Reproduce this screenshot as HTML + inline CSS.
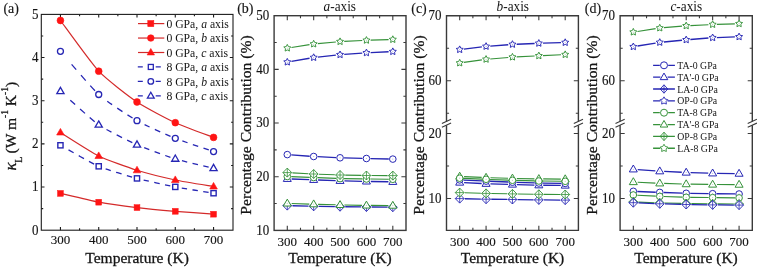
<!DOCTYPE html><html><head><meta charset="utf-8"><style>html,body{margin:0;padding:0;background:#fff;width:757px;height:268px;overflow:hidden}svg{display:block;will-change:transform;filter:blur(0.3px)}text{font-family:"Liberation Serif",serif;fill:#151515}.b{stroke:#151515;stroke-width:0.28px}.m{stroke:#151515;stroke-width:0.14px}</style></head><body>
<svg width="757" height="268" viewBox="0 0 757 268">
<rect width="757" height="268" fill="#fff"/>
<path d="M60.44,230.2v-3.2M60.44,14.4v3.2M79.58,230.2v-1.9M79.58,14.4v1.9M98.72,230.2v-3.2M98.72,14.4v3.2M117.86,230.2v-1.9M117.86,14.4v1.9M137,230.2v-3.2M137,14.4v3.2M156.14,230.2v-1.9M156.14,14.4v1.9M175.28,230.2v-3.2M175.28,14.4v3.2M194.42,230.2v-1.9M194.42,14.4v1.9M213.56,230.2v-3.2M213.56,14.4v3.2M41.3,187.04h3.2M233,187.04h-3.2M41.3,143.88h3.2M233,143.88h-3.2M41.3,100.72h3.2M233,100.72h-3.2M41.3,57.56h3.2M233,57.56h-3.2M41.3,208.62h1.9M233,208.62h-1.9M41.3,165.46h1.9M233,165.46h-1.9M41.3,122.3h1.9M233,122.3h-1.9M41.3,79.14h1.9M233,79.14h-1.9M41.3,35.98h1.9M233,35.98h-1.9" stroke="#1c1c1c" stroke-width="1.1" fill="none"/>
<rect x="41.3" y="14.4" width="191.7" height="215.8" fill="none" stroke="#1c1c1c" stroke-width="1.1"/>
<text transform="translate(38.4,234.6) scale(1,1.05)" font-size="13" text-anchor="end" class="m">0</text>
<text transform="translate(38.4,191.44) scale(1,1.05)" font-size="13" text-anchor="end" class="m">1</text>
<text transform="translate(38.4,148.28) scale(1,1.05)" font-size="13" text-anchor="end" class="m">2</text>
<text transform="translate(38.4,105.12) scale(1,1.05)" font-size="13" text-anchor="end" class="m">3</text>
<text transform="translate(38.4,61.96) scale(1,1.05)" font-size="13" text-anchor="end" class="m">4</text>
<text transform="translate(38.4,18.8) scale(1,1.05)" font-size="13" text-anchor="end" class="m">5</text>
<text transform="translate(60.44,244.1) scale(1,1.03)" font-size="13" text-anchor="middle" class="m">300</text>
<text transform="translate(98.72,244.1) scale(1,1.03)" font-size="13" text-anchor="middle" class="m">400</text>
<text transform="translate(137,244.1) scale(1,1.03)" font-size="13" text-anchor="middle" class="m">500</text>
<text transform="translate(175.28,244.1) scale(1,1.03)" font-size="13" text-anchor="middle" class="m">600</text>
<text transform="translate(213.56,244.1) scale(1,1.03)" font-size="13" text-anchor="middle" class="m">700</text>
<text x="137.1" y="263" font-size="15.5" text-anchor="middle" class="b">Temperature (K)</text>
<text transform="translate(15.6,170.4) rotate(-90)" class="b" font-size="15.5"><tspan font-style="italic" font-size="16.8">κ</tspan><tspan font-size="10" dy="6.4" dx="-0.3">L</tspan><tspan dy="-6.4" dx="-0.8"> (W m</tspan><tspan font-size="9.5" dy="-8">-1</tspan><tspan dy="8"> K</tspan><tspan font-size="9.5" dy="-8">-1</tspan><tspan dy="8">)</tspan></text>
<path d="M60.44,20.5 C64.27,25.57 91.06,63.05 98.72,71.2 C106.38,79.35 129.34,96.85 137,102 C144.66,107.15 167.62,119.16 175.28,122.7 C182.94,126.24 209.73,135.93 213.56,137.4" fill="none" stroke="#d42a2a" stroke-width="1.2"/>
<path d="M60.44,132.5 C64.27,134.85 91.06,152.22 98.72,156 C106.38,159.78 129.34,167.9 137,170.3 C144.66,172.7 167.62,178.38 175.28,180 C182.94,181.62 209.73,185.85 213.56,186.5" fill="none" stroke="#d42a2a" stroke-width="1.2"/>
<path d="M60.44,193.4 C64.27,194.28 91.06,200.78 98.72,202.2 C106.38,203.62 129.34,206.69 137,207.6 C144.66,208.51 167.62,210.64 175.28,211.3 C182.94,211.96 209.73,213.91 213.56,214.2" fill="none" stroke="#d42a2a" stroke-width="1.2"/>
<path d="M60.44,51.3 C64.27,55.62 91.06,87.56 98.72,94.5" fill="none" stroke="#2626b4" stroke-width="1.3" stroke-dasharray="0 17.21 7.06 7.06 7.06 7.06 7.06 400"/>
<path d="M98.72,94.5 C106.38,101.44 129.34,116.32 137,120.7" fill="none" stroke="#2626b4" stroke-width="1.3" stroke-dasharray="0 10.92 6.05 6.05 6.05 6.05 6.05 400"/>
<path d="M137,120.7 C144.66,125.08 167.62,135.21 175.28,138.3" fill="none" stroke="#2626b4" stroke-width="1.3" stroke-dasharray="0 8.56 5.67 5.67 5.67 5.67 5.67 400"/>
<path d="M175.28,138.3 C182.94,141.39 209.73,150.27 213.56,151.6" fill="none" stroke="#2626b4" stroke-width="1.3" stroke-dasharray="0 7.67 5.53 5.53 5.53 5.53 5.53 400"/>
<path d="M60.44,91.2 C64.27,94.56 91.06,119.45 98.72,124.8" fill="none" stroke="#2626b4" stroke-width="1.3" stroke-dasharray="0 13.45 6.46 6.46 6.46 6.46 6.46 400"/>
<path d="M98.72,124.8 C106.38,130.15 129.34,141.29 137,144.7" fill="none" stroke="#2626b4" stroke-width="1.3" stroke-dasharray="0 9.12 5.76 5.76 5.76 5.76 5.76 400"/>
<path d="M137,144.7 C144.66,148.11 167.62,156.55 175.28,158.9" fill="none" stroke="#2626b4" stroke-width="1.3" stroke-dasharray="0 7.84 5.56 5.56 5.56 5.56 5.56 400"/>
<path d="M175.28,158.9 C182.94,161.25 209.73,167.27 213.56,168.2" fill="none" stroke="#2626b4" stroke-width="1.3" stroke-dasharray="0 7.04 5.43 5.43 5.43 5.43 5.43 400"/>
<path d="M60.44,145.3 C64.27,147.4 91.06,162.99 98.72,166.3" fill="none" stroke="#2626b4" stroke-width="1.3" stroke-dasharray="0 9.41 5.81 5.81 5.81 5.81 5.81 400"/>
<path d="M98.72,166.3 C106.38,169.61 129.34,176.34 137,178.4" fill="none" stroke="#2626b4" stroke-width="1.3" stroke-dasharray="0 7.46 5.5 5.5 5.5 5.5 5.5 400"/>
<path d="M137,178.4 C144.66,180.46 167.62,185.42 175.28,186.9" fill="none" stroke="#2626b4" stroke-width="1.3" stroke-dasharray="0 6.94 5.41 5.41 5.41 5.41 5.41 400"/>
<path d="M175.28,186.9 C182.94,188.38 209.73,192.57 213.56,193.2" fill="none" stroke="#2626b4" stroke-width="1.3" stroke-dasharray="0 6.71 5.38 5.38 5.38 5.38 5.38 400"/>
<circle cx="60.44" cy="20.5" r="3.4" fill="#ff1414" stroke="#ff1414" stroke-width="0.6"/>
<circle cx="98.72" cy="71.2" r="3.4" fill="#ff1414" stroke="#ff1414" stroke-width="0.6"/>
<circle cx="137" cy="102" r="3.4" fill="#ff1414" stroke="#ff1414" stroke-width="0.6"/>
<circle cx="175.28" cy="122.7" r="3.4" fill="#ff1414" stroke="#ff1414" stroke-width="0.6"/>
<circle cx="213.56" cy="137.4" r="3.4" fill="#ff1414" stroke="#ff1414" stroke-width="0.6"/>
<path d="M60.44,128.42 L64.24,135 L56.64,135Z" fill="#ff1414" stroke="#ff1414" stroke-width="0.6" stroke-linejoin="miter"/>
<path d="M98.72,151.92 L102.52,158.5 L94.92,158.5Z" fill="#ff1414" stroke="#ff1414" stroke-width="0.6" stroke-linejoin="miter"/>
<path d="M137,166.22 L140.8,172.8 L133.2,172.8Z" fill="#ff1414" stroke="#ff1414" stroke-width="0.6" stroke-linejoin="miter"/>
<path d="M175.28,175.92 L179.08,182.5 L171.48,182.5Z" fill="#ff1414" stroke="#ff1414" stroke-width="0.6" stroke-linejoin="miter"/>
<path d="M213.56,182.42 L217.36,189 L209.76,189Z" fill="#ff1414" stroke="#ff1414" stroke-width="0.6" stroke-linejoin="miter"/>
<rect x="57.54" y="190.5" width="5.8" height="5.8" fill="#ff1414" stroke="#ff1414" stroke-width="0.5"/>
<rect x="95.82" y="199.3" width="5.8" height="5.8" fill="#ff1414" stroke="#ff1414" stroke-width="0.5"/>
<rect x="134.1" y="204.7" width="5.8" height="5.8" fill="#ff1414" stroke="#ff1414" stroke-width="0.5"/>
<rect x="172.38" y="208.4" width="5.8" height="5.8" fill="#ff1414" stroke="#ff1414" stroke-width="0.5"/>
<rect x="210.66" y="211.3" width="5.8" height="5.8" fill="#ff1414" stroke="#ff1414" stroke-width="0.5"/>
<circle cx="60.44" cy="51.3" r="3" fill="white" stroke="#2626b4" stroke-width="1.3"/>
<circle cx="98.72" cy="94.5" r="3" fill="white" stroke="#2626b4" stroke-width="1.3"/>
<circle cx="137" cy="120.7" r="3" fill="white" stroke="#2626b4" stroke-width="1.3"/>
<circle cx="175.28" cy="138.3" r="3" fill="white" stroke="#2626b4" stroke-width="1.3"/>
<circle cx="213.56" cy="151.6" r="3" fill="white" stroke="#2626b4" stroke-width="1.3"/>
<path d="M60.44,87.34 L64.04,93.57 L56.84,93.57Z" fill="white" stroke="#2626b4" stroke-width="1.3" stroke-linejoin="miter"/>
<path d="M98.72,120.94 L102.32,127.17 L95.12,127.17Z" fill="white" stroke="#2626b4" stroke-width="1.3" stroke-linejoin="miter"/>
<path d="M137,140.84 L140.6,147.07 L133.4,147.07Z" fill="white" stroke="#2626b4" stroke-width="1.3" stroke-linejoin="miter"/>
<path d="M175.28,155.04 L178.88,161.27 L171.68,161.27Z" fill="white" stroke="#2626b4" stroke-width="1.3" stroke-linejoin="miter"/>
<path d="M213.56,164.34 L217.16,170.57 L209.96,170.57Z" fill="white" stroke="#2626b4" stroke-width="1.3" stroke-linejoin="miter"/>
<rect x="57.84" y="142.7" width="5.2" height="5.2" fill="white" stroke="#2626b4" stroke-width="1.4"/>
<rect x="96.12" y="163.7" width="5.2" height="5.2" fill="white" stroke="#2626b4" stroke-width="1.4"/>
<rect x="134.4" y="175.8" width="5.2" height="5.2" fill="white" stroke="#2626b4" stroke-width="1.4"/>
<rect x="172.68" y="184.3" width="5.2" height="5.2" fill="white" stroke="#2626b4" stroke-width="1.4"/>
<rect x="210.96" y="190.6" width="5.2" height="5.2" fill="white" stroke="#2626b4" stroke-width="1.4"/>
<path d="M138,23.6H164.3" stroke="#d42a2a" stroke-width="1.2"/>
<rect x="147.8" y="20.6" width="6" height="6" fill="#ff1414" stroke="#ff1414" stroke-width="0.6"/>
<text x="166.4" y="27.8" font-size="11.7">0 GPa, <tspan font-style="italic">a</tspan> axis</text>
<path d="M138,38.05H164.3" stroke="#d42a2a" stroke-width="1.2"/>
<circle cx="150.8" cy="38.05" r="3.3" fill="#ff1414" stroke="#ff1414" stroke-width="0.6"/>
<text x="166.4" y="42.25" font-size="11.7">0 GPa, <tspan font-style="italic">b</tspan> axis</text>
<path d="M138,52.5H164.3" stroke="#d42a2a" stroke-width="1.2"/>
<path d="M150.8,48.53 L154.5,54.93 L147.1,54.93Z" fill="#ff1414" stroke="#ff1414" stroke-width="0.6" stroke-linejoin="miter"/>
<text x="166.4" y="56.7" font-size="11.7">0 GPa, <tspan font-style="italic">c</tspan> axis</text>
<path d="M137.8,66.95H142.8M155.7,66.95H160.8" stroke="#2626b4" stroke-width="1.3"/>
<rect x="148.3" y="64.45" width="5" height="5" fill="white" stroke="#2626b4" stroke-width="1.3"/>
<text x="166.4" y="71.15" font-size="11.7">8 GPa, <tspan font-style="italic">a</tspan> axis</text>
<path d="M137.8,81.4H142.8M155.7,81.4H160.8" stroke="#2626b4" stroke-width="1.3"/>
<circle cx="150.8" cy="81.4" r="2.8" fill="white" stroke="#2626b4" stroke-width="1.3"/>
<text x="166.4" y="85.6" font-size="11.7">8 GPa, <tspan font-style="italic">b</tspan> axis</text>
<path d="M137.8,95.85H142.8M155.7,95.85H160.8" stroke="#2626b4" stroke-width="1.3"/>
<path d="M150.8,92.2 L154.2,98.09 L147.4,98.09Z" fill="white" stroke="#2626b4" stroke-width="1.3" stroke-linejoin="miter"/>
<text x="166.4" y="100.05" font-size="11.7">8 GPa, <tspan font-style="italic">c</tspan> axis</text>
<text transform="translate(11.2,13.2) scale(1,1.04)" font-size="14" text-anchor="middle" class="m">(a)</text>
<path d="M287.29,230.4v-4.6M287.29,15.7v4.6M300.48,230.4v-2.6M300.48,15.7v2.6M313.67,230.4v-4.6M313.67,15.7v4.6M326.86,230.4v-2.6M326.86,15.7v2.6M340.05,230.4v-4.6M340.05,15.7v4.6M353.24,230.4v-2.6M353.24,15.7v2.6M366.43,230.4v-4.6M366.43,15.7v4.6M379.62,230.4v-2.6M379.62,15.7v2.6M392.81,230.4v-4.6M392.81,15.7v4.6M274.1,176.73h4.6M406,176.73h-4.6M274.1,123.05h4.6M406,123.05h-4.6M274.1,69.37h4.6M406,69.37h-4.6M274.1,203.56h2.6M406,203.56h-2.6M274.1,149.89h2.6M406,149.89h-2.6M274.1,96.21h2.6M406,96.21h-2.6M274.1,42.54h2.6M406,42.54h-2.6" stroke="#3a3a3a" stroke-width="1.1" fill="none"/>
<rect x="274.1" y="15.7" width="131.9" height="214.7" fill="none" stroke="#3a3a3a" stroke-width="1.4"/>
<text transform="translate(269.3,234.65) scale(1,1.045)" font-size="13" text-anchor="end" class="m">10</text>
<text transform="translate(269.3,180.98) scale(1,1.045)" font-size="13" text-anchor="end" class="m">20</text>
<text transform="translate(269.3,127.3) scale(1,1.045)" font-size="13" text-anchor="end" class="m">30</text>
<text transform="translate(269.3,73.62) scale(1,1.045)" font-size="13" text-anchor="end" class="m">40</text>
<text transform="translate(269.3,19.95) scale(1,1.045)" font-size="13" text-anchor="end" class="m">50</text>
<text transform="translate(287.29,246.4) scale(1,1.03)" font-size="13" text-anchor="middle" class="m">300</text>
<text transform="translate(313.67,246.4) scale(1,1.03)" font-size="13" text-anchor="middle" class="m">400</text>
<text transform="translate(340.05,246.4) scale(1,1.03)" font-size="13" text-anchor="middle" class="m">500</text>
<text transform="translate(366.43,246.4) scale(1,1.03)" font-size="13" text-anchor="middle" class="m">600</text>
<text transform="translate(392.81,246.4) scale(1,1.03)" font-size="13" text-anchor="middle" class="m">700</text>
<text x="340" y="263" font-size="15.5" text-anchor="middle" class="b">Temperature (K)</text>
<text transform="translate(250.6,125.0) rotate(-90)" class="b" font-size="15.6" text-anchor="middle">Percentage Contribution (%)</text>
<text transform="translate(339.8,10.7) scale(1,1.1)" font-size="13.3" text-anchor="middle"><tspan font-style="italic">a</tspan>-axis</text>
<text transform="translate(245.3,13.2) scale(1,1.04)" font-size="14" text-anchor="middle" class="m">(b)</text>
<path d="M291.69,178.97L309.27,179.63M318.07,179.97L335.65,180.63M344.45,180.9L362.03,181.3M370.83,181.47L388.41,181.73" fill="none" stroke="#2626b4" stroke-width="1.35"/>
<path d="M287.29,174.51 L291.29,181.43 L283.29,181.43Z" fill="white" stroke="#2626b4" stroke-width="1.0" stroke-linejoin="miter"/>
<circle cx="287.29" cy="178.8" r="0.6" fill="#2626b4" opacity="0.35"/>
<path d="M313.67,175.51 L317.67,182.43 L309.67,182.43Z" fill="white" stroke="#2626b4" stroke-width="1.0" stroke-linejoin="miter"/>
<circle cx="313.67" cy="179.8" r="0.6" fill="#2626b4" opacity="0.35"/>
<path d="M340.05,176.51 L344.05,183.43 L336.05,183.43Z" fill="white" stroke="#2626b4" stroke-width="1.0" stroke-linejoin="miter"/>
<circle cx="340.05" cy="180.8" r="0.6" fill="#2626b4" opacity="0.35"/>
<path d="M366.43,177.11 L370.43,184.03 L362.43,184.03Z" fill="white" stroke="#2626b4" stroke-width="1.0" stroke-linejoin="miter"/>
<circle cx="366.43" cy="181.4" r="0.6" fill="#2626b4" opacity="0.35"/>
<path d="M392.81,177.51 L396.81,184.43 L388.81,184.43Z" fill="white" stroke="#2626b4" stroke-width="1.0" stroke-linejoin="miter"/>
<circle cx="392.81" cy="181.8" r="0.6" fill="#2626b4" opacity="0.35"/>
<path d="M291.28,154.89L309.68,156.21M317.67,156.7L336.05,157.6M344.05,157.91L362.43,158.39M370.43,158.59L388.81,159.01" fill="none" stroke="#2626b4" stroke-width="1.35"/>
<circle cx="287.29" cy="154.6" r="3.3" fill="white" stroke="#2626b4" stroke-width="1.0"/>
<circle cx="287.29" cy="154.6" r="0.6" fill="#2626b4" opacity="0.35"/>
<circle cx="313.67" cy="156.5" r="3.3" fill="white" stroke="#2626b4" stroke-width="1.0"/>
<circle cx="313.67" cy="156.5" r="0.6" fill="#2626b4" opacity="0.35"/>
<circle cx="340.05" cy="157.8" r="3.3" fill="white" stroke="#2626b4" stroke-width="1.0"/>
<circle cx="340.05" cy="157.8" r="0.6" fill="#2626b4" opacity="0.35"/>
<circle cx="366.43" cy="158.5" r="3.3" fill="white" stroke="#2626b4" stroke-width="1.0"/>
<circle cx="366.43" cy="158.5" r="0.6" fill="#2626b4" opacity="0.35"/>
<circle cx="392.81" cy="159.1" r="3.3" fill="white" stroke="#2626b4" stroke-width="1.0"/>
<circle cx="392.81" cy="159.1" r="0.6" fill="#2626b4" opacity="0.35"/>
<path d="M292.49,205.74L308.47,206.16M318.87,206.38L334.85,206.62M345.25,206.76L361.23,206.94M371.63,207.04L387.61,207.16" fill="none" stroke="#2626b4" stroke-width="1.35"/>
<path d="M287.29,201.1 L291.69,205.6 L287.29,210.1 L282.89,205.6Z" fill="white" stroke="#2626b4" stroke-width="0.9"/>
<path d="M282.89,205.6H291.69M287.29,201.1V210.1" stroke="#2626b4" stroke-width="0.8" fill="none"/>
<path d="M313.67,201.8 L318.07,206.3 L313.67,210.8 L309.27,206.3Z" fill="white" stroke="#2626b4" stroke-width="0.9"/>
<path d="M309.27,206.3H318.07M313.67,201.8V210.8" stroke="#2626b4" stroke-width="0.8" fill="none"/>
<path d="M340.05,202.2 L344.45,206.7 L340.05,211.2 L335.65,206.7Z" fill="white" stroke="#2626b4" stroke-width="0.9"/>
<path d="M335.65,206.7H344.45M340.05,202.2V211.2" stroke="#2626b4" stroke-width="0.8" fill="none"/>
<path d="M366.43,202.5 L370.83,207 L366.43,211.5 L362.03,207Z" fill="white" stroke="#2626b4" stroke-width="0.9"/>
<path d="M362.03,207H370.83M366.43,202.5V211.5" stroke="#2626b4" stroke-width="0.8" fill="none"/>
<path d="M392.81,202.7 L397.21,207.2 L392.81,211.7 L388.41,207.2Z" fill="white" stroke="#2626b4" stroke-width="0.9"/>
<path d="M388.41,207.2H397.21M392.81,202.7V211.7" stroke="#2626b4" stroke-width="0.8" fill="none"/>
<path d="M291.43,61.38L309.53,58.22M317.85,57.06L335.87,55.14M344.24,54.4L362.24,53.1M370.63,52.61L388.61,51.79" fill="none" stroke="#2626b4" stroke-width="1.35"/>
<polygon points="287.29,58.4 288.38,60.6 290.81,60.96 289.05,62.67 289.46,65.09 287.29,63.95 285.12,65.09 285.53,62.67 283.77,60.96 286.2,60.6" fill="white" stroke="#2626b4" stroke-width="0.95" stroke-linejoin="miter"/>
<circle cx="287.29" cy="62.1" r="0.6" fill="#2626b4" opacity="0.35"/>
<polygon points="313.67,53.8 314.76,56 317.19,56.36 315.43,58.07 315.84,60.49 313.67,59.35 311.5,60.49 311.91,58.07 310.15,56.36 312.58,56" fill="white" stroke="#2626b4" stroke-width="0.95" stroke-linejoin="miter"/>
<circle cx="313.67" cy="57.5" r="0.6" fill="#2626b4" opacity="0.35"/>
<polygon points="340.05,51 341.14,53.2 343.57,53.56 341.81,55.27 342.22,57.69 340.05,56.55 337.88,57.69 338.29,55.27 336.53,53.56 338.96,53.2" fill="white" stroke="#2626b4" stroke-width="0.95" stroke-linejoin="miter"/>
<circle cx="340.05" cy="54.7" r="0.6" fill="#2626b4" opacity="0.35"/>
<polygon points="366.43,49.1 367.52,51.3 369.95,51.66 368.19,53.37 368.6,55.79 366.43,54.65 364.26,55.79 364.67,53.37 362.91,51.66 365.34,51.3" fill="white" stroke="#2626b4" stroke-width="0.95" stroke-linejoin="miter"/>
<circle cx="366.43" cy="52.8" r="0.6" fill="#2626b4" opacity="0.35"/>
<polygon points="392.81,47.9 393.9,50.1 396.33,50.46 394.57,52.17 394.98,54.59 392.81,53.45 390.64,54.59 391.05,52.17 389.29,50.46 391.72,50.1" fill="white" stroke="#2626b4" stroke-width="0.95" stroke-linejoin="miter"/>
<circle cx="392.81" cy="51.6" r="0.6" fill="#2626b4" opacity="0.35"/>
<path d="M291.69,203.53L309.27,204.07M318.07,204.32L335.65,204.78M344.45,204.98L362.03,205.32M370.83,205.43L388.41,205.57" fill="none" stroke="#36923a" stroke-width="1.15"/>
<path d="M287.29,199.11 L291.29,206.03 L283.29,206.03Z" fill="white" stroke="#36923a" stroke-width="1.0" stroke-linejoin="miter"/>
<circle cx="287.29" cy="203.4" r="0.6" fill="#36923a" opacity="0.35"/>
<path d="M313.67,199.91 L317.67,206.83 L309.67,206.83Z" fill="white" stroke="#36923a" stroke-width="1.0" stroke-linejoin="miter"/>
<circle cx="313.67" cy="204.2" r="0.6" fill="#36923a" opacity="0.35"/>
<path d="M340.05,200.61 L344.05,207.53 L336.05,207.53Z" fill="white" stroke="#36923a" stroke-width="1.0" stroke-linejoin="miter"/>
<circle cx="340.05" cy="204.9" r="0.6" fill="#36923a" opacity="0.35"/>
<path d="M366.43,201.11 L370.43,208.03 L362.43,208.03Z" fill="white" stroke="#36923a" stroke-width="1.0" stroke-linejoin="miter"/>
<circle cx="366.43" cy="205.4" r="0.6" fill="#36923a" opacity="0.35"/>
<path d="M392.81,201.31 L396.81,208.23 L388.81,208.23Z" fill="white" stroke="#36923a" stroke-width="1.0" stroke-linejoin="miter"/>
<circle cx="392.81" cy="205.6" r="0.6" fill="#36923a" opacity="0.35"/>
<path d="M291.29,176.65L309.67,177.35M317.67,177.67L336.05,178.43M344.05,178.66L362.43,178.94M370.43,179.05L388.81,179.25" fill="none" stroke="#36923a" stroke-width="1.15"/>
<circle cx="287.29" cy="176.5" r="3.3" fill="white" stroke="#36923a" stroke-width="1.0"/>
<circle cx="287.29" cy="176.5" r="0.6" fill="#36923a" opacity="0.35"/>
<circle cx="313.67" cy="177.5" r="3.3" fill="white" stroke="#36923a" stroke-width="1.0"/>
<circle cx="313.67" cy="177.5" r="0.6" fill="#36923a" opacity="0.35"/>
<circle cx="340.05" cy="178.6" r="3.3" fill="white" stroke="#36923a" stroke-width="1.0"/>
<circle cx="340.05" cy="178.6" r="0.6" fill="#36923a" opacity="0.35"/>
<circle cx="366.43" cy="179" r="3.3" fill="white" stroke="#36923a" stroke-width="1.0"/>
<circle cx="366.43" cy="179" r="0.6" fill="#36923a" opacity="0.35"/>
<circle cx="392.81" cy="179.3" r="3.3" fill="white" stroke="#36923a" stroke-width="1.0"/>
<circle cx="392.81" cy="179.3" r="0.6" fill="#36923a" opacity="0.35"/>
<path d="M292.48,172.88L308.48,173.72M318.87,174.2L334.85,174.8M345.25,175.1L361.23,175.4M371.63,175.52L387.61,175.58" fill="none" stroke="#36923a" stroke-width="1.15"/>
<path d="M287.29,168.1 L291.69,172.6 L287.29,177.1 L282.89,172.6Z" fill="white" stroke="#36923a" stroke-width="0.9"/>
<path d="M282.89,172.6H291.69M287.29,168.1V177.1" stroke="#36923a" stroke-width="0.8" fill="none"/>
<path d="M313.67,169.5 L318.07,174 L313.67,178.5 L309.27,174Z" fill="white" stroke="#36923a" stroke-width="0.9"/>
<path d="M309.27,174H318.07M313.67,169.5V178.5" stroke="#36923a" stroke-width="0.8" fill="none"/>
<path d="M340.05,170.5 L344.45,175 L340.05,179.5 L335.65,175Z" fill="white" stroke="#36923a" stroke-width="0.9"/>
<path d="M335.65,175H344.45M340.05,170.5V179.5" stroke="#36923a" stroke-width="0.8" fill="none"/>
<path d="M366.43,171 L370.83,175.5 L366.43,180 L362.03,175.5Z" fill="white" stroke="#36923a" stroke-width="0.9"/>
<path d="M362.03,175.5H370.83M366.43,171V180" stroke="#36923a" stroke-width="0.8" fill="none"/>
<path d="M392.81,171.1 L397.21,175.6 L392.81,180.1 L388.41,175.6Z" fill="white" stroke="#36923a" stroke-width="0.9"/>
<path d="M388.41,175.6H397.21M392.81,171.1V180.1" stroke="#36923a" stroke-width="0.8" fill="none"/>
<path d="M291.44,47.45L309.52,44.65M317.85,43.62L335.87,41.98M344.24,41.39L362.24,40.51M370.63,40.17L388.61,39.63" fill="none" stroke="#36923a" stroke-width="1.15"/>
<polygon points="287.29,44.4 288.38,46.6 290.81,46.96 289.05,48.67 289.46,51.09 287.29,49.95 285.12,51.09 285.53,48.67 283.77,46.96 286.2,46.6" fill="white" stroke="#36923a" stroke-width="0.95" stroke-linejoin="miter"/>
<circle cx="287.29" cy="48.1" r="0.6" fill="#36923a" opacity="0.35"/>
<polygon points="313.67,40.3 314.76,42.5 317.19,42.86 315.43,44.57 315.84,46.99 313.67,45.85 311.5,46.99 311.91,44.57 310.15,42.86 312.58,42.5" fill="white" stroke="#36923a" stroke-width="0.95" stroke-linejoin="miter"/>
<circle cx="313.67" cy="44" r="0.6" fill="#36923a" opacity="0.35"/>
<polygon points="340.05,37.9 341.14,40.1 343.57,40.46 341.81,42.17 342.22,44.59 340.05,43.45 337.88,44.59 338.29,42.17 336.53,40.46 338.96,40.1" fill="white" stroke="#36923a" stroke-width="0.95" stroke-linejoin="miter"/>
<circle cx="340.05" cy="41.6" r="0.6" fill="#36923a" opacity="0.35"/>
<polygon points="366.43,36.6 367.52,38.8 369.95,39.16 368.19,40.87 368.6,43.29 366.43,42.15 364.26,43.29 364.67,40.87 362.91,39.16 365.34,38.8" fill="white" stroke="#36923a" stroke-width="0.95" stroke-linejoin="miter"/>
<circle cx="366.43" cy="40.3" r="0.6" fill="#36923a" opacity="0.35"/>
<polygon points="392.81,35.8 393.9,38 396.33,38.36 394.57,40.07 394.98,42.49 392.81,41.35 390.64,42.49 391.05,40.07 389.29,38.36 391.72,38" fill="white" stroke="#36923a" stroke-width="0.95" stroke-linejoin="miter"/>
<circle cx="392.81" cy="39.5" r="0.6" fill="#36923a" opacity="0.35"/>
<path d="M459.69,230.4v-4.6M459.69,15.7v4.6M472.88,230.4v-2.6M472.88,15.7v2.6M486.07,230.4v-4.6M486.07,15.7v4.6M499.26,230.4v-2.6M499.26,15.7v2.6M512.45,230.4v-4.6M512.45,15.7v4.6M525.64,230.4v-2.6M525.64,15.7v2.6M538.83,230.4v-4.6M538.83,15.7v4.6M552.02,230.4v-2.6M552.02,15.7v2.6M565.21,230.4v-4.6M565.21,15.7v4.6" stroke="#3a3a3a" stroke-width="1.1" fill="none"/>
<path d="M446.5,121.4V15.7H578.4V121.4M446.5,125.2V230.4H578.4V125.2" fill="none" stroke="#3a3a3a" stroke-width="1.4"/>
<path d="M441.9,123.4L451.1,119.3M441.9,127.2L451.1,123.1" stroke="#3a3a3a" stroke-width="1.1" fill="none"/>
<path d="M573.8,123.4L583,119.3M573.8,127.2L583,123.1" stroke="#3a3a3a" stroke-width="1.1" fill="none"/>
<path d="M446.5,80.7h4.6M578.4,80.7h-4.6M446.5,48.2h2.6M578.4,48.2h-2.6M446.5,113.2h2.6M578.4,113.2h-2.6M446.5,133.5h4.6M578.4,133.5h-4.6M446.5,198.5h4.6M578.4,198.5h-4.6M446.5,166h2.6M578.4,166h-2.6" stroke="#3a3a3a" stroke-width="1.1" fill="none"/>
<text transform="translate(441.5,19.95) scale(1,1.045)" font-size="13" text-anchor="end" class="m">70</text>
<text transform="translate(441.5,84.95) scale(1,1.045)" font-size="13" text-anchor="end" class="m">60</text>
<text transform="translate(441.5,137.75) scale(1,1.045)" font-size="13" text-anchor="end" class="m">20</text>
<text transform="translate(441.5,202.75) scale(1,1.045)" font-size="13" text-anchor="end" class="m">10</text>
<text transform="translate(459.69,246.4) scale(1,1.03)" font-size="13" text-anchor="middle" class="m">300</text>
<text transform="translate(486.07,246.4) scale(1,1.03)" font-size="13" text-anchor="middle" class="m">400</text>
<text transform="translate(512.45,246.4) scale(1,1.03)" font-size="13" text-anchor="middle" class="m">500</text>
<text transform="translate(538.83,246.4) scale(1,1.03)" font-size="13" text-anchor="middle" class="m">600</text>
<text transform="translate(565.21,246.4) scale(1,1.03)" font-size="13" text-anchor="middle" class="m">700</text>
<text x="512.5" y="263" font-size="15.5" text-anchor="middle" class="b">Temperature (K)</text>
<text transform="translate(423.6,125.0) rotate(-90)" class="b" font-size="15.6" text-anchor="middle">Percentage Contribution (%)</text>
<text transform="translate(512.8,10.7) scale(1,1.1)" font-size="13.3" text-anchor="middle"><tspan font-style="italic">b</tspan>-axis</text>
<text transform="translate(419,13.2) scale(1,1.04)" font-size="14" text-anchor="middle" class="m">(c)</text>
<path d="M464.09,182.7L481.67,183.5M490.47,183.83L508.05,184.37M516.85,184.62L534.43,185.08M543.23,185.25L560.81,185.45" fill="none" stroke="#2626b4" stroke-width="1.35"/>
<path d="M459.69,178.21 L463.69,185.13 L455.69,185.13Z" fill="white" stroke="#2626b4" stroke-width="1.0" stroke-linejoin="miter"/>
<circle cx="459.69" cy="182.5" r="0.6" fill="#2626b4" opacity="0.35"/>
<path d="M486.07,179.41 L490.07,186.33 L482.07,186.33Z" fill="white" stroke="#2626b4" stroke-width="1.0" stroke-linejoin="miter"/>
<circle cx="486.07" cy="183.7" r="0.6" fill="#2626b4" opacity="0.35"/>
<path d="M512.45,180.21 L516.45,187.13 L508.45,187.13Z" fill="white" stroke="#2626b4" stroke-width="1.0" stroke-linejoin="miter"/>
<circle cx="512.45" cy="184.5" r="0.6" fill="#2626b4" opacity="0.35"/>
<path d="M538.83,180.91 L542.83,187.83 L534.83,187.83Z" fill="white" stroke="#2626b4" stroke-width="1.0" stroke-linejoin="miter"/>
<circle cx="538.83" cy="185.2" r="0.6" fill="#2626b4" opacity="0.35"/>
<path d="M565.21,181.21 L569.21,188.13 L561.21,188.13Z" fill="white" stroke="#2626b4" stroke-width="1.0" stroke-linejoin="miter"/>
<circle cx="565.21" cy="185.5" r="0.6" fill="#2626b4" opacity="0.35"/>
<path d="M463.69,180.08L482.07,180.92M490.07,181.27L508.45,182.03M516.45,182.32L534.83,182.88M542.83,183.06L561.21,183.34" fill="none" stroke="#2626b4" stroke-width="1.35"/>
<circle cx="459.69" cy="179.9" r="3.3" fill="white" stroke="#2626b4" stroke-width="1.0"/>
<circle cx="459.69" cy="179.9" r="0.6" fill="#2626b4" opacity="0.35"/>
<circle cx="486.07" cy="181.1" r="3.3" fill="white" stroke="#2626b4" stroke-width="1.0"/>
<circle cx="486.07" cy="181.1" r="0.6" fill="#2626b4" opacity="0.35"/>
<circle cx="512.45" cy="182.2" r="3.3" fill="white" stroke="#2626b4" stroke-width="1.0"/>
<circle cx="512.45" cy="182.2" r="0.6" fill="#2626b4" opacity="0.35"/>
<circle cx="538.83" cy="183" r="3.3" fill="white" stroke="#2626b4" stroke-width="1.0"/>
<circle cx="538.83" cy="183" r="0.6" fill="#2626b4" opacity="0.35"/>
<circle cx="565.21" cy="183.4" r="3.3" fill="white" stroke="#2626b4" stroke-width="1.0"/>
<circle cx="565.21" cy="183.4" r="0.6" fill="#2626b4" opacity="0.35"/>
<path d="M464.89,198.72L480.87,199.08M491.27,199.26L507.25,199.44M517.65,199.58L533.63,199.82M544.03,199.94L560.01,200.06" fill="none" stroke="#2626b4" stroke-width="1.35"/>
<path d="M459.69,194.1 L464.09,198.6 L459.69,203.1 L455.29,198.6Z" fill="white" stroke="#2626b4" stroke-width="0.9"/>
<path d="M455.29,198.6H464.09M459.69,194.1V203.1" stroke="#2626b4" stroke-width="0.8" fill="none"/>
<path d="M486.07,194.7 L490.47,199.2 L486.07,203.7 L481.67,199.2Z" fill="white" stroke="#2626b4" stroke-width="0.9"/>
<path d="M481.67,199.2H490.47M486.07,194.7V203.7" stroke="#2626b4" stroke-width="0.8" fill="none"/>
<path d="M512.45,195 L516.85,199.5 L512.45,204 L508.05,199.5Z" fill="white" stroke="#2626b4" stroke-width="0.9"/>
<path d="M508.05,199.5H516.85M512.45,195V204" stroke="#2626b4" stroke-width="0.8" fill="none"/>
<path d="M538.83,195.4 L543.23,199.9 L538.83,204.4 L534.43,199.9Z" fill="white" stroke="#2626b4" stroke-width="0.9"/>
<path d="M534.43,199.9H543.23M538.83,195.4V204.4" stroke="#2626b4" stroke-width="0.8" fill="none"/>
<path d="M565.21,195.6 L569.61,200.1 L565.21,204.6 L560.81,200.1Z" fill="white" stroke="#2626b4" stroke-width="0.9"/>
<path d="M560.81,200.1H569.61M565.21,195.6V204.6" stroke="#2626b4" stroke-width="0.8" fill="none"/>
<path d="M463.86,49.09L481.9,46.91M490.26,46.08L508.26,44.72M516.65,44.23L534.63,43.47M543.03,43.17L561.01,42.63" fill="none" stroke="#2626b4" stroke-width="1.35"/>
<polygon points="459.69,45.9 460.78,48.1 463.21,48.46 461.45,50.17 461.86,52.59 459.69,51.45 457.52,52.59 457.93,50.17 456.17,48.46 458.6,48.1" fill="white" stroke="#2626b4" stroke-width="0.95" stroke-linejoin="miter"/>
<circle cx="459.69" cy="49.6" r="0.6" fill="#2626b4" opacity="0.35"/>
<polygon points="486.07,42.7 487.16,44.9 489.59,45.26 487.83,46.97 488.24,49.39 486.07,48.25 483.9,49.39 484.31,46.97 482.55,45.26 484.98,44.9" fill="white" stroke="#2626b4" stroke-width="0.95" stroke-linejoin="miter"/>
<circle cx="486.07" cy="46.4" r="0.6" fill="#2626b4" opacity="0.35"/>
<polygon points="512.45,40.7 513.54,42.9 515.97,43.26 514.21,44.97 514.62,47.39 512.45,46.25 510.28,47.39 510.69,44.97 508.93,43.26 511.36,42.9" fill="white" stroke="#2626b4" stroke-width="0.95" stroke-linejoin="miter"/>
<circle cx="512.45" cy="44.4" r="0.6" fill="#2626b4" opacity="0.35"/>
<polygon points="538.83,39.6 539.92,41.8 542.35,42.16 540.59,43.87 541,46.29 538.83,45.15 536.66,46.29 537.07,43.87 535.31,42.16 537.74,41.8" fill="white" stroke="#2626b4" stroke-width="0.95" stroke-linejoin="miter"/>
<circle cx="538.83" cy="43.3" r="0.6" fill="#2626b4" opacity="0.35"/>
<polygon points="565.21,38.8 566.3,41 568.73,41.36 566.97,43.07 567.38,45.49 565.21,44.35 563.04,45.49 563.45,43.07 561.69,41.36 564.12,41" fill="white" stroke="#2626b4" stroke-width="0.95" stroke-linejoin="miter"/>
<circle cx="565.21" cy="42.5" r="0.6" fill="#2626b4" opacity="0.35"/>
<path d="M464.09,176.68L481.67,177.42M490.47,177.73L508.05,178.27M516.85,178.48L534.43,178.82M543.23,178.93L560.81,179.07" fill="none" stroke="#36923a" stroke-width="1.15"/>
<path d="M459.69,172.21 L463.69,179.13 L455.69,179.13Z" fill="white" stroke="#36923a" stroke-width="1.0" stroke-linejoin="miter"/>
<circle cx="459.69" cy="176.5" r="0.6" fill="#36923a" opacity="0.35"/>
<path d="M486.07,173.31 L490.07,180.23 L482.07,180.23Z" fill="white" stroke="#36923a" stroke-width="1.0" stroke-linejoin="miter"/>
<circle cx="486.07" cy="177.6" r="0.6" fill="#36923a" opacity="0.35"/>
<path d="M512.45,174.11 L516.45,181.03 L508.45,181.03Z" fill="white" stroke="#36923a" stroke-width="1.0" stroke-linejoin="miter"/>
<circle cx="512.45" cy="178.4" r="0.6" fill="#36923a" opacity="0.35"/>
<path d="M538.83,174.61 L542.83,181.53 L534.83,181.53Z" fill="white" stroke="#36923a" stroke-width="1.0" stroke-linejoin="miter"/>
<circle cx="538.83" cy="178.9" r="0.6" fill="#36923a" opacity="0.35"/>
<path d="M565.21,174.81 L569.21,181.73 L561.21,181.73Z" fill="white" stroke="#36923a" stroke-width="1.0" stroke-linejoin="miter"/>
<circle cx="565.21" cy="179.1" r="0.6" fill="#36923a" opacity="0.35"/>
<path d="M463.69,178.37L482.07,179.13M490.07,179.45L508.45,180.15M516.45,180.41L534.83,180.89M542.83,181.05L561.21,181.25" fill="none" stroke="#36923a" stroke-width="1.15"/>
<circle cx="459.69" cy="178.2" r="3.3" fill="white" stroke="#36923a" stroke-width="1.0"/>
<circle cx="459.69" cy="178.2" r="0.6" fill="#36923a" opacity="0.35"/>
<circle cx="486.07" cy="179.3" r="3.3" fill="white" stroke="#36923a" stroke-width="1.0"/>
<circle cx="486.07" cy="179.3" r="0.6" fill="#36923a" opacity="0.35"/>
<circle cx="512.45" cy="180.3" r="3.3" fill="white" stroke="#36923a" stroke-width="1.0"/>
<circle cx="512.45" cy="180.3" r="0.6" fill="#36923a" opacity="0.35"/>
<circle cx="538.83" cy="181" r="3.3" fill="white" stroke="#36923a" stroke-width="1.0"/>
<circle cx="538.83" cy="181" r="0.6" fill="#36923a" opacity="0.35"/>
<circle cx="565.21" cy="181.3" r="3.3" fill="white" stroke="#36923a" stroke-width="1.0"/>
<circle cx="565.21" cy="181.3" r="0.6" fill="#36923a" opacity="0.35"/>
<path d="M464.89,192.76L480.87,193.24M491.27,193.5L507.25,193.8M517.65,193.98L533.63,194.22M544.03,194.34L560.01,194.46" fill="none" stroke="#36923a" stroke-width="1.15"/>
<path d="M459.69,188.1 L464.09,192.6 L459.69,197.1 L455.29,192.6Z" fill="white" stroke="#36923a" stroke-width="0.9"/>
<path d="M455.29,192.6H464.09M459.69,188.1V197.1" stroke="#36923a" stroke-width="0.8" fill="none"/>
<path d="M486.07,188.9 L490.47,193.4 L486.07,197.9 L481.67,193.4Z" fill="white" stroke="#36923a" stroke-width="0.9"/>
<path d="M481.67,193.4H490.47M486.07,188.9V197.9" stroke="#36923a" stroke-width="0.8" fill="none"/>
<path d="M512.45,189.4 L516.85,193.9 L512.45,198.4 L508.05,193.9Z" fill="white" stroke="#36923a" stroke-width="0.9"/>
<path d="M508.05,193.9H516.85M512.45,189.4V198.4" stroke="#36923a" stroke-width="0.8" fill="none"/>
<path d="M538.83,189.8 L543.23,194.3 L538.83,198.8 L534.43,194.3Z" fill="white" stroke="#36923a" stroke-width="0.9"/>
<path d="M534.43,194.3H543.23M538.83,189.8V198.8" stroke="#36923a" stroke-width="0.8" fill="none"/>
<path d="M565.21,190 L569.61,194.5 L565.21,199 L560.81,194.5Z" fill="white" stroke="#36923a" stroke-width="0.9"/>
<path d="M560.81,194.5H569.61M565.21,190V199" stroke="#36923a" stroke-width="0.8" fill="none"/>
<path d="M463.85,62.42L481.91,59.88M490.26,58.95L508.26,57.45M516.64,56.89L534.64,56.01M543.03,55.61L561.01,54.79" fill="none" stroke="#36923a" stroke-width="1.15"/>
<polygon points="459.69,59.3 460.78,61.5 463.21,61.86 461.45,63.57 461.86,65.99 459.69,64.85 457.52,65.99 457.93,63.57 456.17,61.86 458.6,61.5" fill="white" stroke="#36923a" stroke-width="0.95" stroke-linejoin="miter"/>
<circle cx="459.69" cy="63" r="0.6" fill="#36923a" opacity="0.35"/>
<polygon points="486.07,55.6 487.16,57.8 489.59,58.16 487.83,59.87 488.24,62.29 486.07,61.15 483.9,62.29 484.31,59.87 482.55,58.16 484.98,57.8" fill="white" stroke="#36923a" stroke-width="0.95" stroke-linejoin="miter"/>
<circle cx="486.07" cy="59.3" r="0.6" fill="#36923a" opacity="0.35"/>
<polygon points="512.45,53.4 513.54,55.6 515.97,55.96 514.21,57.67 514.62,60.09 512.45,58.95 510.28,60.09 510.69,57.67 508.93,55.96 511.36,55.6" fill="white" stroke="#36923a" stroke-width="0.95" stroke-linejoin="miter"/>
<circle cx="512.45" cy="57.1" r="0.6" fill="#36923a" opacity="0.35"/>
<polygon points="538.83,52.1 539.92,54.3 542.35,54.66 540.59,56.37 541,58.79 538.83,57.65 536.66,58.79 537.07,56.37 535.31,54.66 537.74,54.3" fill="white" stroke="#36923a" stroke-width="0.95" stroke-linejoin="miter"/>
<circle cx="538.83" cy="55.8" r="0.6" fill="#36923a" opacity="0.35"/>
<polygon points="565.21,50.9 566.3,53.1 568.73,53.46 566.97,55.17 567.38,57.59 565.21,56.45 563.04,57.59 563.45,55.17 561.69,53.46 564.12,53.1" fill="white" stroke="#36923a" stroke-width="0.95" stroke-linejoin="miter"/>
<circle cx="565.21" cy="54.6" r="0.6" fill="#36923a" opacity="0.35"/>
<path d="M633.32,230.4v-4.6M633.32,15.7v4.6M646.54,230.4v-2.6M646.54,15.7v2.6M659.76,230.4v-4.6M659.76,15.7v4.6M672.98,230.4v-2.6M672.98,15.7v2.6M686.2,230.4v-4.6M686.2,15.7v4.6M699.42,230.4v-2.6M699.42,15.7v2.6M712.64,230.4v-4.6M712.64,15.7v4.6M725.86,230.4v-2.6M725.86,15.7v2.6M739.08,230.4v-4.6M739.08,15.7v4.6" stroke="#3a3a3a" stroke-width="1.1" fill="none"/>
<path d="M620.1,121.4V15.7H752.3V121.4M620.1,125.2V230.4H752.3V125.2" fill="none" stroke="#3a3a3a" stroke-width="1.4"/>
<path d="M615.5,123.4L624.7,119.3M615.5,127.2L624.7,123.1" stroke="#3a3a3a" stroke-width="1.1" fill="none"/>
<path d="M747.7,123.4L756.9,119.3M747.7,127.2L756.9,123.1" stroke="#3a3a3a" stroke-width="1.1" fill="none"/>
<path d="M620.1,80.7h4.6M752.3,80.7h-4.6M620.1,48.2h2.6M752.3,48.2h-2.6M620.1,113.2h2.6M752.3,113.2h-2.6M620.1,133.5h4.6M752.3,133.5h-4.6M620.1,198.5h4.6M752.3,198.5h-4.6M620.1,166h2.6M752.3,166h-2.6" stroke="#3a3a3a" stroke-width="1.1" fill="none"/>
<text transform="translate(615,19.95) scale(1,1.045)" font-size="13" text-anchor="end" class="m">70</text>
<text transform="translate(615,84.95) scale(1,1.045)" font-size="13" text-anchor="end" class="m">60</text>
<text transform="translate(615,137.75) scale(1,1.045)" font-size="13" text-anchor="end" class="m">20</text>
<text transform="translate(615,202.75) scale(1,1.045)" font-size="13" text-anchor="end" class="m">10</text>
<text transform="translate(633.32,246.4) scale(1,1.03)" font-size="13" text-anchor="middle" class="m">300</text>
<text transform="translate(659.76,246.4) scale(1,1.03)" font-size="13" text-anchor="middle" class="m">400</text>
<text transform="translate(686.2,246.4) scale(1,1.03)" font-size="13" text-anchor="middle" class="m">500</text>
<text transform="translate(712.64,246.4) scale(1,1.03)" font-size="13" text-anchor="middle" class="m">600</text>
<text transform="translate(739.08,246.4) scale(1,1.03)" font-size="13" text-anchor="middle" class="m">700</text>
<text x="686" y="263" font-size="15.5" text-anchor="middle" class="b">Temperature (K)</text>
<text transform="translate(596.6,125.0) rotate(-90)" class="b" font-size="15.6" text-anchor="middle">Percentage Contribution (%)</text>
<text transform="translate(686.3,10.7) scale(1,1.1)" font-size="13.3" text-anchor="middle"><tspan font-style="italic">c</tspan>-axis</text>
<text transform="translate(593,13.2) scale(1,1.04)" font-size="14" text-anchor="middle" class="m">(d)</text>
<path d="M637.71,169.62L655.37,170.88M664.15,171.42L681.81,172.28M690.6,172.63L708.24,173.17M717.04,173.35L734.68,173.55" fill="none" stroke="#2626b4" stroke-width="1.35"/>
<path d="M633.32,165.01 L637.32,171.93 L629.32,171.93Z" fill="white" stroke="#2626b4" stroke-width="1.0" stroke-linejoin="miter"/>
<circle cx="633.32" cy="169.3" r="0.6" fill="#2626b4" opacity="0.35"/>
<path d="M659.76,166.91 L663.76,173.83 L655.76,173.83Z" fill="white" stroke="#2626b4" stroke-width="1.0" stroke-linejoin="miter"/>
<circle cx="659.76" cy="171.2" r="0.6" fill="#2626b4" opacity="0.35"/>
<path d="M686.2,168.21 L690.2,175.13 L682.2,175.13Z" fill="white" stroke="#2626b4" stroke-width="1.0" stroke-linejoin="miter"/>
<circle cx="686.2" cy="172.5" r="0.6" fill="#2626b4" opacity="0.35"/>
<path d="M712.64,169.01 L716.64,175.93 L708.64,175.93Z" fill="white" stroke="#2626b4" stroke-width="1.0" stroke-linejoin="miter"/>
<circle cx="712.64" cy="173.3" r="0.6" fill="#2626b4" opacity="0.35"/>
<path d="M739.08,169.31 L743.08,176.23 L735.08,176.23Z" fill="white" stroke="#2626b4" stroke-width="1.0" stroke-linejoin="miter"/>
<circle cx="739.08" cy="173.6" r="0.6" fill="#2626b4" opacity="0.35"/>
<path d="M637.32,191.47L655.76,192.23M663.76,192.54L682.2,193.16M690.2,193.36L708.64,193.64M716.64,193.75L735.08,193.95" fill="none" stroke="#2626b4" stroke-width="1.35"/>
<circle cx="633.32" cy="191.3" r="3.3" fill="white" stroke="#2626b4" stroke-width="1.0"/>
<circle cx="633.32" cy="191.3" r="0.6" fill="#2626b4" opacity="0.35"/>
<circle cx="659.76" cy="192.4" r="3.3" fill="white" stroke="#2626b4" stroke-width="1.0"/>
<circle cx="659.76" cy="192.4" r="0.6" fill="#2626b4" opacity="0.35"/>
<circle cx="686.2" cy="193.3" r="3.3" fill="white" stroke="#2626b4" stroke-width="1.0"/>
<circle cx="686.2" cy="193.3" r="0.6" fill="#2626b4" opacity="0.35"/>
<circle cx="712.64" cy="193.7" r="3.3" fill="white" stroke="#2626b4" stroke-width="1.0"/>
<circle cx="712.64" cy="193.7" r="0.6" fill="#2626b4" opacity="0.35"/>
<circle cx="739.08" cy="194" r="3.3" fill="white" stroke="#2626b4" stroke-width="1.0"/>
<circle cx="739.08" cy="194" r="0.6" fill="#2626b4" opacity="0.35"/>
<path d="M637.47,46.03L655.61,43.07M663.94,41.99L682.02,40.21M690.39,39.47L708.45,38.03M716.84,37.56L734.88,36.94" fill="none" stroke="#2626b4" stroke-width="1.35"/>
<polygon points="633.32,43 634.41,45.2 636.84,45.56 635.08,47.27 635.49,49.69 633.32,48.55 631.15,49.69 631.56,47.27 629.8,45.56 632.23,45.2" fill="white" stroke="#2626b4" stroke-width="0.95" stroke-linejoin="miter"/>
<circle cx="633.32" cy="46.7" r="0.6" fill="#2626b4" opacity="0.35"/>
<polygon points="659.76,38.7 660.85,40.9 663.28,41.26 661.52,42.97 661.93,45.39 659.76,44.25 657.59,45.39 658,42.97 656.24,41.26 658.67,40.9" fill="white" stroke="#2626b4" stroke-width="0.95" stroke-linejoin="miter"/>
<circle cx="659.76" cy="42.4" r="0.6" fill="#2626b4" opacity="0.35"/>
<polygon points="686.2,36.1 687.29,38.3 689.72,38.66 687.96,40.37 688.37,42.79 686.2,41.65 684.03,42.79 684.44,40.37 682.68,38.66 685.11,38.3" fill="white" stroke="#2626b4" stroke-width="0.95" stroke-linejoin="miter"/>
<circle cx="686.2" cy="39.8" r="0.6" fill="#2626b4" opacity="0.35"/>
<polygon points="712.64,34 713.73,36.2 716.16,36.56 714.4,38.27 714.81,40.69 712.64,39.55 710.47,40.69 710.88,38.27 709.12,36.56 711.55,36.2" fill="white" stroke="#2626b4" stroke-width="0.95" stroke-linejoin="miter"/>
<circle cx="712.64" cy="37.7" r="0.6" fill="#2626b4" opacity="0.35"/>
<polygon points="739.08,33.1 740.17,35.3 742.6,35.66 740.84,37.37 741.25,39.79 739.08,38.65 736.91,39.79 737.32,37.37 735.56,35.66 737.99,35.3" fill="white" stroke="#2626b4" stroke-width="0.95" stroke-linejoin="miter"/>
<circle cx="739.08" cy="36.8" r="0.6" fill="#2626b4" opacity="0.35"/>
<path d="M637.71,182.22L655.37,183.08M664.16,183.43L681.8,183.97M690.6,184.17L708.24,184.43M717.04,184.52L734.68,184.58" fill="none" stroke="#36923a" stroke-width="1.15"/>
<path d="M633.32,177.71 L637.32,184.63 L629.32,184.63Z" fill="white" stroke="#36923a" stroke-width="1.0" stroke-linejoin="miter"/>
<circle cx="633.32" cy="182" r="0.6" fill="#36923a" opacity="0.35"/>
<path d="M659.76,179.01 L663.76,185.93 L655.76,185.93Z" fill="white" stroke="#36923a" stroke-width="1.0" stroke-linejoin="miter"/>
<circle cx="659.76" cy="183.3" r="0.6" fill="#36923a" opacity="0.35"/>
<path d="M686.2,179.81 L690.2,186.73 L682.2,186.73Z" fill="white" stroke="#36923a" stroke-width="1.0" stroke-linejoin="miter"/>
<circle cx="686.2" cy="184.1" r="0.6" fill="#36923a" opacity="0.35"/>
<path d="M712.64,180.21 L716.64,187.13 L708.64,187.13Z" fill="white" stroke="#36923a" stroke-width="1.0" stroke-linejoin="miter"/>
<circle cx="712.64" cy="184.5" r="0.6" fill="#36923a" opacity="0.35"/>
<path d="M739.08,180.31 L743.08,187.23 L735.08,187.23Z" fill="white" stroke="#36923a" stroke-width="1.0" stroke-linejoin="miter"/>
<circle cx="739.08" cy="184.6" r="0.6" fill="#36923a" opacity="0.35"/>
<path d="M637.31,195.21L655.77,196.19M663.76,196.54L682.2,197.16M690.2,197.35L708.64,197.55M716.64,197.65L735.08,197.85" fill="none" stroke="#36923a" stroke-width="1.15"/>
<circle cx="633.32" cy="195" r="3.3" fill="white" stroke="#36923a" stroke-width="1.0"/>
<circle cx="633.32" cy="195" r="0.6" fill="#36923a" opacity="0.35"/>
<circle cx="659.76" cy="196.4" r="3.3" fill="white" stroke="#36923a" stroke-width="1.0"/>
<circle cx="659.76" cy="196.4" r="0.6" fill="#36923a" opacity="0.35"/>
<circle cx="686.2" cy="197.3" r="3.3" fill="white" stroke="#36923a" stroke-width="1.0"/>
<circle cx="686.2" cy="197.3" r="0.6" fill="#36923a" opacity="0.35"/>
<circle cx="712.64" cy="197.6" r="3.3" fill="white" stroke="#36923a" stroke-width="1.0"/>
<circle cx="712.64" cy="197.6" r="0.6" fill="#36923a" opacity="0.35"/>
<circle cx="739.08" cy="197.9" r="3.3" fill="white" stroke="#36923a" stroke-width="1.0"/>
<circle cx="739.08" cy="197.9" r="0.6" fill="#36923a" opacity="0.35"/>
<path d="M638.52,202.1L654.56,202.7M664.96,203.02L681,203.38M691.4,203.56L707.44,203.74M717.84,203.84L733.88,203.96" fill="none" stroke="#36923a" stroke-width="1.15"/>
<path d="M633.32,197.4 L637.72,201.9 L633.32,206.4 L628.92,201.9Z" fill="white" stroke="#36923a" stroke-width="0.9"/>
<path d="M628.92,201.9H637.72M633.32,197.4V206.4" stroke="#36923a" stroke-width="0.8" fill="none"/>
<path d="M659.76,198.4 L664.16,202.9 L659.76,207.4 L655.36,202.9Z" fill="white" stroke="#36923a" stroke-width="0.9"/>
<path d="M655.36,202.9H664.16M659.76,198.4V207.4" stroke="#36923a" stroke-width="0.8" fill="none"/>
<path d="M686.2,199 L690.6,203.5 L686.2,208 L681.8,203.5Z" fill="white" stroke="#36923a" stroke-width="0.9"/>
<path d="M681.8,203.5H690.6M686.2,199V208" stroke="#36923a" stroke-width="0.8" fill="none"/>
<path d="M712.64,199.3 L717.04,203.8 L712.64,208.3 L708.24,203.8Z" fill="white" stroke="#36923a" stroke-width="0.9"/>
<path d="M708.24,203.8H717.04M712.64,199.3V208.3" stroke="#36923a" stroke-width="0.8" fill="none"/>
<path d="M739.08,199.5 L743.48,204 L739.08,208.5 L734.68,204Z" fill="white" stroke="#36923a" stroke-width="0.9"/>
<path d="M734.68,204H743.48M739.08,199.5V208.5" stroke="#36923a" stroke-width="0.8" fill="none"/>
<path d="M637.47,31.46L655.61,28.64M663.95,27.65L682.01,26.15M690.39,25.59L708.45,24.71M716.84,24.37L734.88,23.83" fill="none" stroke="#36923a" stroke-width="1.15"/>
<polygon points="633.32,28.4 634.41,30.6 636.84,30.96 635.08,32.67 635.49,35.09 633.32,33.95 631.15,35.09 631.56,32.67 629.8,30.96 632.23,30.6" fill="white" stroke="#36923a" stroke-width="0.95" stroke-linejoin="miter"/>
<circle cx="633.32" cy="32.1" r="0.6" fill="#36923a" opacity="0.35"/>
<polygon points="659.76,24.3 660.85,26.5 663.28,26.86 661.52,28.57 661.93,30.99 659.76,29.85 657.59,30.99 658,28.57 656.24,26.86 658.67,26.5" fill="white" stroke="#36923a" stroke-width="0.95" stroke-linejoin="miter"/>
<circle cx="659.76" cy="28" r="0.6" fill="#36923a" opacity="0.35"/>
<polygon points="686.2,22.1 687.29,24.3 689.72,24.66 687.96,26.37 688.37,28.79 686.2,27.65 684.03,28.79 684.44,26.37 682.68,24.66 685.11,24.3" fill="white" stroke="#36923a" stroke-width="0.95" stroke-linejoin="miter"/>
<circle cx="686.2" cy="25.8" r="0.6" fill="#36923a" opacity="0.35"/>
<polygon points="712.64,20.8 713.73,23 716.16,23.36 714.4,25.07 714.81,27.49 712.64,26.35 710.47,27.49 710.88,25.07 709.12,23.36 711.55,23" fill="white" stroke="#36923a" stroke-width="0.95" stroke-linejoin="miter"/>
<circle cx="712.64" cy="24.5" r="0.6" fill="#36923a" opacity="0.35"/>
<polygon points="739.08,20 740.17,22.2 742.6,22.56 740.84,24.27 741.25,26.69 739.08,25.55 736.91,26.69 737.32,24.27 735.56,22.56 737.99,22.2" fill="white" stroke="#36923a" stroke-width="0.95" stroke-linejoin="miter"/>
<circle cx="739.08" cy="23.7" r="0.6" fill="#36923a" opacity="0.35"/>
<path d="M638.52,202.92L654.56,203.58M664.96,203.94L681,204.36M691.4,204.58L707.44,204.82M717.84,204.94L733.88,205.06" fill="none" stroke="#2626b4" stroke-width="1.35"/>
<path d="M633.32,198.2 L637.72,202.7 L633.32,207.2 L628.92,202.7Z" fill="white" stroke="#2626b4" stroke-width="0.9"/>
<path d="M628.92,202.7H637.72M633.32,198.2V207.2" stroke="#2626b4" stroke-width="0.8" fill="none"/>
<path d="M659.76,199.3 L664.16,203.8 L659.76,208.3 L655.36,203.8Z" fill="white" stroke="#2626b4" stroke-width="0.9"/>
<path d="M655.36,203.8H664.16M659.76,199.3V208.3" stroke="#2626b4" stroke-width="0.8" fill="none"/>
<path d="M686.2,200 L690.6,204.5 L686.2,209 L681.8,204.5Z" fill="white" stroke="#2626b4" stroke-width="0.9"/>
<path d="M681.8,204.5H690.6M686.2,200V209" stroke="#2626b4" stroke-width="0.8" fill="none"/>
<path d="M712.64,200.4 L717.04,204.9 L712.64,209.4 L708.24,204.9Z" fill="white" stroke="#2626b4" stroke-width="0.9"/>
<path d="M708.24,204.9H717.04M712.64,200.4V209.4" stroke="#2626b4" stroke-width="0.8" fill="none"/>
<path d="M739.08,200.6 L743.48,205.1 L739.08,209.6 L734.68,205.1Z" fill="white" stroke="#2626b4" stroke-width="0.9"/>
<path d="M734.68,205.1H743.48M739.08,200.6V209.6" stroke="#2626b4" stroke-width="0.8" fill="none"/>
<path d="M653.1,65.3H659.8M668.2,65.3H674.9" stroke="#2626b4" stroke-width="1.3"/>
<circle cx="664" cy="65.3" r="3.5" fill="white" stroke="#2626b4" stroke-width="1.0"/>
<text x="677.2" y="68.8" font-size="9.8">TA-0 GPa</text>
<path d="M653.1,77.15H660.4M667.6,77.15H674.9" stroke="#2626b4" stroke-width="1.3"/>
<path d="M664,73.07 L667.8,79.65 L660.2,79.65Z" fill="none" stroke="#2626b4" stroke-width="1.0" stroke-linejoin="miter"/>
<text x="677.2" y="80.65" font-size="9.8">TA'-0 GPa</text>
<path d="M653.1,89H664M664,89H674.9" stroke="#2626b4" stroke-width="1.3"/>
<path d="M664,84.8 L667.8,89 L664,93.2 L660.2,89Z" fill="none" stroke="#2626b4" stroke-width="0.9"/>
<path d="M660.2,89H667.8M664,84.8V93.2" stroke="#2626b4" stroke-width="0.8" fill="none"/>
<text x="677.2" y="92.5" font-size="9.8">LA-0 GPa</text>
<path d="M653.1,100.85H660.4M667.6,100.85H674.9" stroke="#2626b4" stroke-width="1.3"/>
<polygon points="664,96.85 665.29,99.07 667.8,99.61 666.09,101.53 666.35,104.09 664,103.05 661.65,104.09 661.91,101.53 660.2,99.61 662.71,99.07" fill="none" stroke="#2626b4" stroke-width="0.9" stroke-linejoin="miter"/>
<text x="677.2" y="104.35" font-size="9.8">OP-0 GPa</text>
<path d="M653.1,112.7H659.8M668.2,112.7H674.9" stroke="#36923a" stroke-width="1.3"/>
<circle cx="664" cy="112.7" r="3.5" fill="white" stroke="#36923a" stroke-width="1.0"/>
<text x="677.2" y="116.2" font-size="9.8">TA-8 GPa</text>
<path d="M653.1,124.55H660.4M667.6,124.55H674.9" stroke="#36923a" stroke-width="1.3"/>
<path d="M664,120.47 L667.8,127.05 L660.2,127.05Z" fill="none" stroke="#36923a" stroke-width="1.0" stroke-linejoin="miter"/>
<text x="677.2" y="128.05" font-size="9.8">TA'-8 GPa</text>
<path d="M653.1,136.4H664M664,136.4H674.9" stroke="#36923a" stroke-width="1.3"/>
<path d="M664,132.2 L667.8,136.4 L664,140.6 L660.2,136.4Z" fill="none" stroke="#36923a" stroke-width="0.9"/>
<path d="M660.2,136.4H667.8M664,132.2V140.6" stroke="#36923a" stroke-width="0.8" fill="none"/>
<text x="677.2" y="139.9" font-size="9.8">OP-8 GPa</text>
<path d="M653.1,148.25H660.4M667.6,148.25H674.9" stroke="#36923a" stroke-width="1.3"/>
<polygon points="664,144.25 665.29,146.47 667.8,147.01 666.09,148.93 666.35,151.49 664,150.45 661.65,151.49 661.91,148.93 660.2,147.01 662.71,146.47" fill="none" stroke="#36923a" stroke-width="0.9" stroke-linejoin="miter"/>
<text x="677.2" y="151.75" font-size="9.8">LA-8 GPa</text>
</svg></body></html>
